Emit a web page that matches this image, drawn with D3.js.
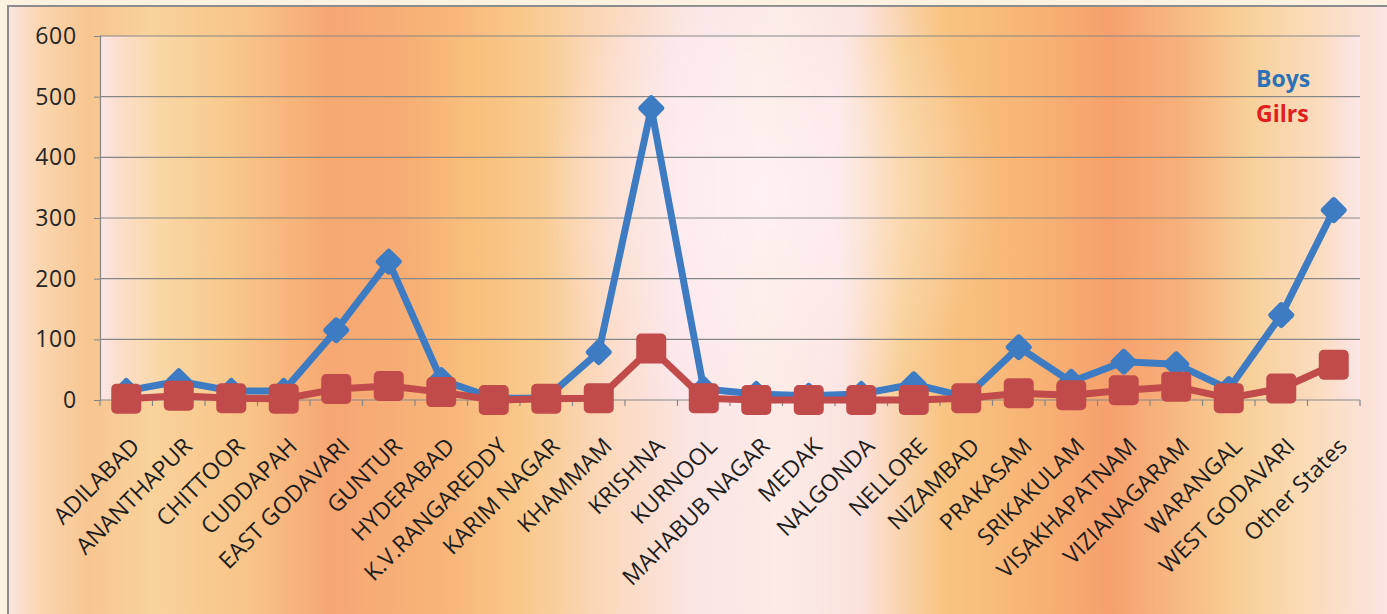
<!DOCTYPE html>
<html><head><meta charset="utf-8">
<script src="https://cdn.jsdelivr.net/npm/d3@7"></script>
<style>html,body{margin:0;padding:0;background:#fdf2df;overflow:hidden}svg{display:block}</style>
</head><body>
<svg id="c" width="1387" height="614"></svg>
<script>
const categories = ["ADILABAD","ANANTHAPUR","CHITTOOR","CUDDAPAH","EAST GODAVARI","GUNTUR","HYDERABAD","K.V.RANGAREDDY","KARIM NAGAR","KHAMMAM","KRISHNA","KURNOOL","MAHABUB NAGAR","MEDAK","NALGONDA","NELLORE","NIZAMBAD","PRAKASAM","SRIKAKULAM","VISAKHAPATNAM","VIZIANAGARAM","WARANGAL","WEST GODAVARI","Other States"];
const boys  = [15, 31, 15, 15, 115, 228, 33, 3, 3, 79, 481, 18, 10, 7, 10, 26, 5, 87, 30, 63, 59, 18, 140, 313];
const girls = [2, 7, 3, 2, 18, 23, 13, 0, 2, 3, 85, 3, 0, 0, 0, 0, 3, 11, 8, 16, 22, 3, 19, 58];
const yTicks = [0, 100, 200, 300, 400, 500, 600];
const seriesNames = ["Boys", "Gilrs"];

const svg = d3.select("#c");
const defs = svg.append("defs");

const plot = {left: 100, right: 1360, top: 36, bottom: 400};

function hGrad(id, x1, x2, stops) {
  const g = defs.append("linearGradient").attr("id", id)
    .attr("gradientUnits", "userSpaceOnUse")
    .attr("x1", x1).attr("x2", x2).attr("y1", 0).attr("y2", 0);
  stops.forEach(([px, c]) => g.append("stop").attr("offset", (px - x1) / (x2 - x1)).attr("stop-color", c));
}
hGrad("bgChart", 8, 1387, [
  [8, "#fbe5e0"], [40, "#fad6b0"], [90, "#f7c590"], [150, "#f9d29c"], [250, "#f8c487"],
  [330, "#f6a673"], [450, "#f8b679"], [520, "#f9c889"], [600, "#fad7b8"], [700, "#fbe6e6"],
  [780, "#fcebe6"], [860, "#fbe2dc"], [940, "#f8c583"], [1020, "#f8b676"], [1110, "#f6a06d"],
  [1230, "#f8cc92"], [1300, "#fadbb4"], [1387, "#fbe4e2"]
]);
hGrad("bgPlot", 100, 1360, [
  [100, "#fce6ea"], [115, "#fbe0d0"], [160, "#f9d7a6"], [230, "#f8c88b"], [330, "#f6a872"],
  [400, "#f6ac74"], [470, "#f8bf7b"], [540, "#f9cb90"], [610, "#fbdcc8"], [680, "#fce6ec"],
  [760, "#fcece6"], [840, "#fce5e4"], [900, "#f9cf96"], [960, "#f8c07e"], [1040, "#f7b274"],
  [1110, "#f6a06c"], [1180, "#f7b07a"], [1250, "#f8d09a"], [1320, "#fadcc0"], [1360, "#fce6e8"]
]);
const rg = defs.append("radialGradient").attr("id", "glow").attr("gradientUnits", "userSpaceOnUse")
  .attr("cx", 770).attr("cy", 190).attr("r", 230);
rg.append("stop").attr("offset", 0).attr("stop-color", "#fff4f6").attr("stop-opacity", 0.6);
rg.append("stop").attr("offset", 1).attr("stop-color", "#fff4f6").attr("stop-opacity", 0);

// chart area
svg.append("rect").attr("x", 8).attr("y", 6).attr("width", 1400).attr("height", 630)
  .attr("fill", "url(#bgChart)").attr("stroke", "#8c8c8c").attr("stroke-width", 2);
svg.append("rect").attr("x", plot.left).attr("y", plot.top)
  .attr("width", plot.right - plot.left).attr("height", plot.bottom - plot.top)
  .attr("fill", "url(#bgPlot)");
svg.append("rect").attr("x", 8).attr("y", 6).attr("width", 1400).attr("height", 630)
  .attr("fill", "url(#glow)");

const x = d3.scaleBand().domain(categories).range([plot.left, plot.right]).paddingInner(0).paddingOuter(0);
const y = d3.scaleLinear().domain([0, 600]).range([plot.bottom, plot.top]);
const cx = d => x(d) + x.bandwidth() / 2;

// gridlines
svg.append("g").selectAll("line").data(yTicks.filter(t => t > 0)).join("line")
  .attr("x1", plot.left).attr("x2", plot.right)
  .attr("y1", d => y(d)).attr("y2", d => y(d))
  .attr("stroke", "#878787").attr("stroke-width", 1.2);

// y axis
const yAxis = svg.append("g").attr("transform", `translate(${plot.left},0)`)
  .call(d3.axisLeft(y).tickValues(yTicks).tickSize(6).tickPadding(17).tickFormat(d3.format("d")));
yAxis.select(".domain").attr("stroke", "#878787").attr("stroke-width", 1.2);
yAxis.selectAll(".tick line").attr("stroke", "#878787");
yAxis.selectAll("text").attr("font-family", "'Open Sans', sans-serif").attr("font-size", 23)
  .attr("fill", "#262626").attr("letter-spacing", 0.8);

// x axis line + ticks at band boundaries
svg.append("line").attr("x1", plot.left).attr("x2", plot.right)
  .attr("y1", plot.bottom).attr("y2", plot.bottom).attr("stroke", "#878787").attr("stroke-width", 1.2);
const bounds = categories.map(c => x(c)).concat([plot.right]);
svg.append("g").selectAll("line").data(bounds).join("line")
  .attr("x1", d => d).attr("x2", d => d).attr("y1", plot.bottom).attr("y2", plot.bottom + 6)
  .attr("stroke", "#878787").attr("stroke-width", 1.2);

// x labels
svg.append("g").selectAll("text").data(categories).join("text")
  .attr("transform", d => `translate(${cx(d) + 3},${436}) rotate(-45)`)
  .attr("text-anchor", "end").attr("dy", "0.72em")
  .attr("font-family", "'Open Sans', sans-serif").attr("font-size", 23)
  .attr("fill", "#1e1e1e")
  .text(d => d);

const blue = "#3d7bc2", red = "#c04b4a";
const line = d3.line().x((d, i) => cx(categories[i])).y(d => y(d));

// Boys
svg.append("path").datum(boys).attr("d", line).attr("fill", "none")
  .attr("stroke", blue).attr("stroke-width", 7).attr("stroke-linejoin", "round");
svg.append("g").selectAll("rect").data(boys).join("rect")
  .attr("x", -10).attr("y", -10).attr("width", 20).attr("height", 20).attr("rx", 3)
  .attr("transform", (d, i) => `translate(${cx(categories[i])},${y(d)}) rotate(45)`)
  .attr("fill", blue);

// Girls
svg.append("path").datum(girls).attr("d", line).attr("fill", "none")
  .attr("stroke", red).attr("stroke-width", 7).attr("stroke-linejoin", "round");
svg.append("g").selectAll("rect").data(girls).join("rect")
  .attr("x", -15).attr("y", -15).attr("width", 30).attr("height", 30).attr("rx", 5)
  .attr("transform", (d, i) => `translate(${cx(categories[i])},${y(d)})`)
  .attr("fill", red);

// legend
const legColors = ["#2d72b6", "#e11d1f"];
svg.append("g").selectAll("text").data(seriesNames).join("text")
  .attr("x", 1256).attr("y", (d, i) => 87 + i * 35)
  .attr("font-family", "'Open Sans', sans-serif").attr("font-weight", "bold").attr("font-size", 23)
  .attr("fill", (d, i) => legColors[i]).text(d => d);
</script>
</body></html>
